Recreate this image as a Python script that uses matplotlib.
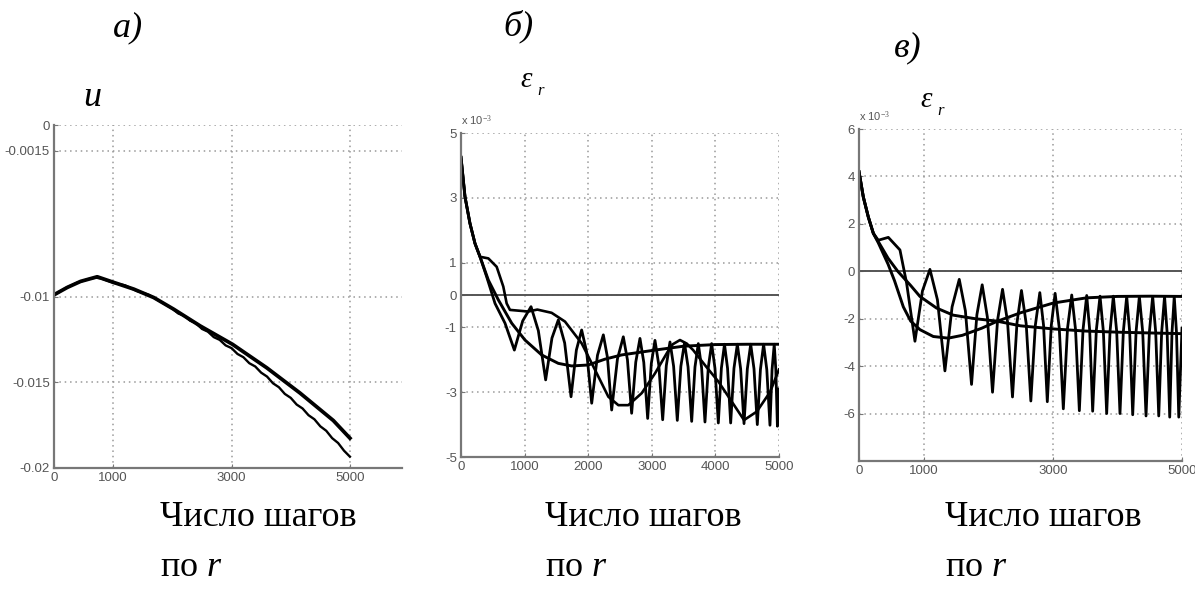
import matplotlib
matplotlib.use('Agg')
import matplotlib.pyplot as plt

plt.rcParams['mathtext.fontset'] = 'custom'
plt.rcParams['mathtext.rm'] = 'Liberation Serif'
plt.rcParams['mathtext.it'] = 'Liberation Serif:italic'
plt.rcParams['axes.unicode_minus'] = False

W, H = 1195, 597

# ---- panel a) : displacement u ----
a_up_x = [0, 225, 449, 730, 1011, 1348, 1685, 2022, 2472, 3017, 3596, 4157, 4719, 5000]
a_up_y = [-0.00990, -0.00947, -0.00912, -0.00885, -0.00918, -0.00957, -0.01006, -0.01074,
          -0.01172, -0.01279, -0.01416, -0.01563, -0.01723, -0.01826]
a_lo_x = [0, 200, 400, 600, 700, 800, 1000, 1200, 1400, 1600, 1800,
          2000, 2100, 2200, 2300, 2400, 2500, 2600, 2700, 2800, 2900,
          3000, 3100, 3200, 3300, 3400, 3500, 3600, 3700, 3800, 3900,
          4000, 4100, 4200, 4300, 4400, 4500, 4600, 4700, 4800, 4900, 5000]
a_lo_y = [-0.00992, -0.00950, -0.00918, -0.00897, -0.00890, -0.00895, -0.00920, -0.00935,
          -0.00968, -0.00990, -0.01030,
          -0.01071, -0.01099, -0.01112, -0.01141, -0.01156, -0.01189, -0.01205, -0.01237,
          -0.01253, -0.01285,
          -0.01301, -0.01335, -0.01354, -0.01389, -0.01408, -0.01444, -0.01467, -0.01506,
          -0.01529, -0.01568,
          -0.01591, -0.01630, -0.01653, -0.01692, -0.01716, -0.01757, -0.01783, -0.01826,
          -0.01854, -0.01899, -0.01934]

# ---- panel б) : eps_r (x 1e-3) ----
b_fast_x = [0, 63, 141, 220, 299, 404, 535, 692, 839,
            970, 1101, 1216, 1331, 1430, 1530, 1630, 1730, 1814, 1897, 1976, 2055,
            2146, 2238, 2303, 2369, 2460, 2552, 2617, 2683, 2748, 2814, 2874, 2935,
            2992, 3050, 3110, 3171, 3228, 3286, 3343, 3401, 3457, 3514, 3570, 3627,
            3679, 3731, 3783, 3836, 3888, 3941, 3993, 4046, 4094, 4143, 4191, 4240,
            4292, 4345, 4397, 4450, 4502, 4555, 4607, 4659, 4708, 4758, 4808, 4858,
            4891, 4925, 4950, 4975, 5000]
b_fast_y = [4.25, 3.03, 2.21, 1.59, 1.18, 0.56, -0.26, -0.87, -1.70,
            -0.80, -0.36, -1.10, -2.62, -1.33, -0.77, -1.48, -3.14, -1.70, -1.08, -1.76, -3.34,
            -1.86, -1.23, -1.93, -3.55, -1.97, -1.29, -2.00, -3.65, -2.07, -1.34, -2.08, -3.81,
            -2.12, -1.40, -2.16, -3.85, -2.18, -1.45, -2.20, -3.87, -2.20, -1.48, -2.22, -3.90,
            -2.22, -1.50, -2.24, -3.92, -2.24, -1.50, -2.26, -3.95, -2.26, -1.52, -2.26, -3.95,
            -2.26, -1.52, -2.28, -3.97, -2.28, -1.52, -2.28, -4.00, -2.30, -1.52, -2.30, -4.02,
            -2.30, -1.52, -2.30, -4.05, -2.90]
b_mid_x = [0, 63, 141, 220, 299, 430, 587, 797, 1006, 1268, 1530, 1740, 2002, 2264, 2526,
           3050, 3500, 4000, 4500, 5000]
b_mid_y = [4.25, 3.03, 2.21, 1.59, 1.18, 0.46, -0.15, -0.87, -1.39, -1.85, -2.11, -2.19,
           -2.16, -1.98, -1.85, -1.70, -1.58, -1.53, -1.52, -1.52]
b_slow_x = [0, 63, 141, 220, 299, 430, 561, 665, 718, 770, 1058, 1200, 1425, 1635, 1897,
            2107, 2317, 2474, 2631, 2841, 3050, 3250, 3330, 3443, 3550, 3650, 3850, 4046,
            4240, 4450, 4650, 4858, 5000]
b_slow_y = [4.25, 3.03, 2.21, 1.59, 1.18, 1.13, 0.87, 0.26, -0.26, -0.46, -0.51, -0.45,
            -0.55, -0.82, -1.49, -2.31, -3.14, -3.40, -3.40, -3.03, -2.42, -1.75, -1.52,
            -1.39, -1.50, -1.70, -2.20, -2.67, -3.24, -3.86, -3.60, -3.00, -2.30]

# ---- panel в) : eps_r (x 1e-3) ----
c_fast_x = [0, 67, 144, 222, 299, 454, 634, 737, 866,
            982, 1098, 1214, 1330, 1441, 1552, 1647, 1742, 1825, 1907, 1987, 2067,
            2145, 2222, 2299, 2376, 2446, 2515, 2588, 2660, 2730, 2799, 2857, 2915,
            2976, 3036, 3100, 3163, 3228, 3293, 3352, 3411, 3468, 3525, 3571, 3617,
            3674, 3731, 3783, 3834, 3886, 3937, 3989, 4040, 4092, 4144, 4190, 4237,
            4289, 4340, 4392, 4443, 4495, 4546, 4593, 4640, 4685, 4730, 4770, 4810,
            4845, 4880, 4915, 4950, 5000]
c_fast_y = [4.20, 3.13, 2.29, 1.60, 1.31, 1.43, 0.90, -0.50, -2.95,
            -0.83, 0.08, -1.20, -4.20, -1.50, -0.34, -1.67, -4.77, -1.83, -0.57, -1.93, -5.10,
            -2.06, -0.76, -2.12, -5.30, -2.16, -0.81, -2.21, -5.47, -2.27, -0.90, -2.28, -5.50,
            -2.30, -0.93, -2.39, -5.80, -2.40, -1.00, -2.46, -5.88, -2.46, -1.02, -2.48, -5.90,
            -2.48, -1.05, -2.54, -6.00, -2.54, -1.05, -2.54, -6.00, -2.54, -1.06, -2.55, -6.05,
            -2.55, -1.06, -2.57, -6.10, -2.57, -1.06, -2.57, -6.10, -2.57, -1.06, -2.59, -6.15,
            -2.59, -1.06, -2.59, -6.15, -2.40]
c_a_x = [0, 67, 144, 222, 299, 450, 600, 800, 943, 1200, 1459, 1800, 2129, 2500, 3005,
         3500, 4036, 4500, 5000]
c_a_y = [4.20, 3.13, 2.29, 1.60, 1.25, 0.55, 0.00, -0.60, -1.06, -1.55, -1.85, -2.00,
         -2.10, -2.30, -2.43, -2.52, -2.57, -2.60, -2.63]
c_b_x = [0, 67, 144, 222, 299, 450, 550, 686, 800, 943, 1150, 1381, 1600, 1900, 2129,
         2500, 3005, 3521, 4000, 4500, 5000]
c_b_y = [4.20, 3.13, 2.29, 1.60, 1.20, 0.30, -0.40, -1.50, -2.10, -2.46, -2.75, -2.82,
         -2.70, -2.40, -2.12, -1.75, -1.34, -1.12, -1.06, -1.05, -1.06]

a_yticks = [0, -0.0015, -0.01, -0.015, -0.02]
a_yticklabels = ['0', '-0.0015', '-0.01', '-0.015', '-0.02']
a_xticks = [0, 1000, 3000, 5000]
b_yticks = [5, 3, 1, 0, -1, -3, -5]
b_xticks = [0, 1000, 2000, 3000, 4000, 5000]
c_yticks = [6, 4, 2, 0, -2, -4, -6]
c_xticks = [0, 1000, 3000, 5000]

tick_font = ['Liberation Sans Narrow', 'Liberation Sans', 'DejaVu Sans']
serif = 'Liberation Serif'


def box(left, right, top, bottom):
    return [left / W, 1 - bottom / H, (right - left) / W, (bottom - top) / H]


def style(ax, xlim, ylim, xticks, yticks, ylabels=None):
    ax.set_xlim(*xlim)
    ax.set_ylim(*ylim)
    ax.set_xticks(xticks)
    ax.set_yticks(yticks)
    if ylabels is not None:
        ax.set_yticklabels(ylabels)
    for s in ['top', 'right']:
        ax.spines[s].set_visible(False)
    for s in ['left', 'bottom']:
        ax.spines[s].set_color('#777777')
        ax.spines[s].set_linewidth(1.6)
    ax.tick_params(direction='in', length=3, color='#777777', labelcolor='#555555',
                   labelsize=9.5, pad=3)
    for lab in ax.get_xticklabels() + ax.get_yticklabels():
        lab.set_family(tick_font)
    ax.grid(True, linestyle=(0, (1, 2.5)), color='#999999', linewidth=1.1)
    ax.set_axisbelow(True)
    ax.patch.set_alpha(0)


fig = plt.figure(figsize=(W / 100, H / 100), dpi=100)

ax1 = fig.add_axes(box(54, 402, 125, 468))
style(ax1, (0, 5880), (-0.02, 0), a_xticks, a_yticks, a_yticklabels)
ax1.plot(a_lo_x, a_lo_y, color='black', lw=1.7)
ax1.plot(a_up_x, a_up_y, color='black', lw=2.7)

ax2 = fig.add_axes(box(461, 779, 133, 457))
style(ax2, (0, 5000), (-5, 5), b_xticks, b_yticks)
ax2.axhline(0, color='#555555', lw=1.4)
ax2.plot(b_mid_x, b_mid_y, color='black', lw=2.1)
ax2.plot(b_slow_x, b_slow_y, color='black', lw=1.9)
ax2.plot(b_fast_x, b_fast_y, color='black', lw=2.0)

ax3 = fig.add_axes(box(859, 1182, 129, 461))
style(ax3, (0, 5000), (-8, 6), c_xticks, c_yticks)
ax3.axhline(0, color='#555555', lw=1.4)
ax3.plot(c_a_x, c_a_y, color='black', lw=2.1)
ax3.plot(c_b_x, c_b_y, color='black', lw=2.1)
ax3.plot(c_fast_x, c_fast_y, color='black', lw=2.0)


def ftext(px, py, s, **kw):
    fig.text(px / W, 1 - py / H, s, **kw)


# panel letters and axis symbols
for px, py, s in [(128, 28, 'а)'), (518, 26, 'б)'), (908, 48, 'в)')]:
    ftext(px, py, s, family=serif, style='italic', fontsize=26, ha='center', va='center')
ftext(92, 97, 'u', family=serif, style='italic', fontsize=26, ha='center', va='center')
for px, py in [(526, 80), (926, 100)]:
    ftext(px, py, 'ε', family=serif, style='italic', fontsize=21, ha='center', va='center')
    ftext(px + 15, py + 11, 'r', family=serif, style='italic', fontsize=12,
          ha='center', va='center')

# exponent labels
for px, py in [(461, 121), (859, 117)]:
    ftext(px, py, r'x 10$^{-3}$', family=tick_font, fontsize=8, color='#555555',
          ha='left', va='center')

# bottom captions
for px in [160, 545, 945]:
    ftext(px, 518, 'Число шагов', family=serif, fontsize=26, ha='left', va='center')
    ftext(px, 567, 'по $r$', family=serif, fontsize=26, ha='left', va='center')

fig.savefig('out.png', dpi=100)
